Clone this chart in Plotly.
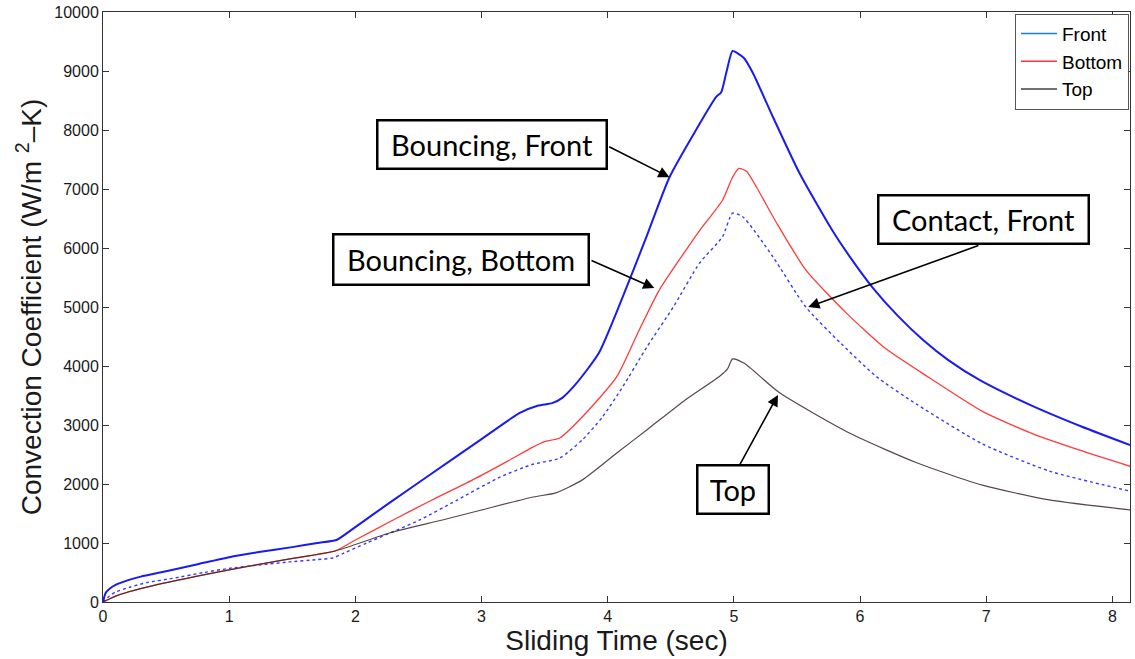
import plotly.graph_objects as go

# ---- Data ----
front_bounce_x = [0, 0.02, 0.05, 0.1, 0.2, 0.3, 0.5, 0.75, 1.0, 1.25, 1.5, 1.7, 1.85, 2.0, 2.27, 2.6,
                  3.0, 3.3, 3.45, 3.56, 3.64, 3.75, 3.93, 4.11, 4.3, 4.49, 4.7, 4.86, 4.90, 4.94, 4.99,
                  5.03, 5.08, 5.15, 5.31, 5.52, 5.78, 5.92, 6.1, 6.3, 6.5, 6.7, 6.95, 7.37, 7.76, 8.14]
front_bounce_y = [0, 150, 220, 290, 370, 430, 520, 640, 760, 850, 930, 1000, 1050, 1270, 1680, 2170,
                  2760, 3200, 3330, 3370, 3460, 3700, 4220, 5120, 6150, 7200, 8000, 8560, 8640, 8970, 9340,
                  9300, 9220, 8970, 8220, 7270, 6300, 5850, 5330, 4850, 4440, 4100, 3760, 3320, 2970, 2660]

bottom_bounce_x = [0, 0.1, 0.2, 0.42, 1.0, 1.48, 1.84, 2.0, 2.30, 2.6, 2.93, 3.2, 3.41, 3.5, 3.62,
                   3.80, 4.07, 4.25, 4.41, 4.6, 4.73, 4.91, 4.99, 5.04, 5.10, 5.18, 5.34, 5.57, 5.89,
                   6.2, 6.55, 6.97, 7.37, 7.76, 8.14]
bottom_bounce_y = [0, 100, 170, 290, 545, 730, 865, 1050, 1390, 1720, 2070, 2380, 2630, 2720, 2780,
                   3140, 3810, 4610, 5290, 5900, 6300, 6810, 7200, 7350, 7300, 7030, 6420, 5630, 4900,
                   4300, 3800, 3230, 2850, 2560, 2300]

top_x = [0, 0.1, 0.2, 0.42, 1.0, 1.48, 1.84, 2.27, 2.69, 3.0, 3.41, 3.59, 3.80, 4.07, 4.33, 4.6,
         4.89, 4.95, 4.99, 5.08, 5.36, 5.92, 6.45, 6.97, 7.5, 8.14]
top_y = [0, 100, 170, 290, 545, 730, 865, 1170, 1390, 1560, 1780, 1850, 2070, 2520, 2950, 3400,
         3830, 3950, 4120, 4050, 3550, 2860, 2360, 1980, 1730, 1560]

contact_front_x = [0, 0.05, 0.1, 0.21, 0.35, 0.55, 0.8, 1.0, 1.25, 1.48, 1.7, 1.82, 1.9, 2.09, 2.51,
                   2.8, 3.15, 3.4, 3.62, 3.80, 3.96, 4.12, 4.31, 4.52, 4.73, 4.91, 4.99, 5.07, 5.31,
                   5.57, 5.85, 6.13, 6.45, 6.97, 7.50, 8.14]
contact_front_y = [0, 100, 170, 250, 330, 400, 500, 570, 630, 680, 720, 745, 820, 1000, 1390,
                   1720, 2120, 2330, 2440, 2750, 3140, 3650, 4320, 5000, 5750, 6190, 6590, 6530, 5850,
                   5000, 4380, 3820, 3350, 2680, 2220, 1880]

legend_names = ["Front", "Bottom", "Top"]
legend_colors = ["#1f78d6", "#ff3045", "#404040"]

x_ticks = [0, 1, 2, 3, 4, 5, 6, 7, 8]
y_ticks = [0, 1000, 2000, 3000, 4000, 5000, 6000, 7000, 8000, 9000, 10000]

# annotation boxes: (text, x, y, box width px, box height px)
boxes = [("Bouncing, Front", 3.08, 7750, 221, 40),
         ("Bouncing, Bottom", 2.84, 5800, 247, 42),
         ("Contact, Front", 6.98, 6475, 202, 40),
         ("Top", 4.99, 1900, 63, 40)]
# arrows: (tail_x, tail_y, tip_x, tip_y)
arrows = [(4.00, 7730, 4.49, 7200),
          (3.86, 5800, 4.37, 5320),
          (6.95, 6050, 5.59, 5000),
          (5.04, 2300, 5.35, 3510)]

fig = go.Figure()
fig.add_trace(go.Scatter(x=contact_front_x, y=contact_front_y, mode="lines",
                         line=dict(color="#3a3aff", width=1.4, dash="dot", shape="spline", smoothing=0.6),
                         showlegend=False))
fig.add_trace(go.Scatter(x=bottom_bounce_x, y=bottom_bounce_y, mode="lines",
                         line=dict(color="#ff3a3a", width=1.3, shape="spline", smoothing=0.6),
                         showlegend=False))
fig.add_trace(go.Scatter(x=top_x, y=top_y, mode="lines",
                         line=dict(color="rgba(60,40,40,0.85)", width=1.2, shape="spline", smoothing=0.6),
                         showlegend=False))
fig.add_trace(go.Scatter(x=front_bounce_x, y=front_bounce_y, mode="lines",
                         line=dict(color="#1a1af2", width=2, shape="spline", smoothing=0.6),
                         showlegend=False))

for name, col in zip(legend_names, legend_colors):
    fig.add_trace(go.Scatter(x=[None], y=[None], mode="lines", name=name,
                             line=dict(color=col, width=1.5)))

annotations = []
for tx, ty, hx, hy in arrows:
    annotations.append(dict(x=hx, y=hy, ax=tx, ay=ty, xref="x", yref="y", axref="x", ayref="y",
                            text="", showarrow=True, arrowhead=2, arrowsize=1.4, arrowwidth=1.6,
                            arrowcolor="black"))
for txt, bx, by, bw, bh in boxes:
    annotations.append(dict(x=bx, y=by, xref="x", yref="y", text=txt, showarrow=False,
                            font=dict(family="Lato", size=29, color="black"),
                            width=bw, height=bh, align="center", valign="middle",
                            bordercolor="black", borderwidth=2.5, borderpad=3, bgcolor="white"))

axis_common = dict(showline=True, linecolor="#333333", linewidth=1, mirror="ticks",
                   ticks="inside", ticklen=6, tickcolor="#333333", showgrid=False, zeroline=False,
                   tickfont=dict(family="Liberation Sans, Arial", size=16, color="#1a1a1a"))

fig.update_layout(
    width=1135, height=659,
    margin=dict(l=103, r=5, t=12, b=57),
    paper_bgcolor="white", plot_bgcolor="white",
    font=dict(family="Liberation Sans, Arial", color="#1a1a1a"),
    xaxis=dict(range=[0, 8.14], tickvals=x_ticks, ticktext=[str(v) for v in x_ticks],
               title=dict(text="Sliding Time (sec)", font=dict(size=28), standoff=2), **axis_common),
    yaxis=dict(range=[0, 10000], tickvals=y_ticks, ticktext=[str(v) for v in y_ticks],
               title=dict(text="Convection Coefficient (W/m <sup>2</sup>–K)", font=dict(size=28), standoff=4),
               **axis_common),
    legend=dict(x=0.999, xanchor="right", y=0.997, yanchor="top", bordercolor="#555555", borderwidth=1,
                bgcolor="white", font=dict(family="Liberation Sans, Arial", size=19, color="black"),
                itemwidth=36, tracegroupgap=0),
    annotations=annotations,
)

fig.write_html("out.html")
